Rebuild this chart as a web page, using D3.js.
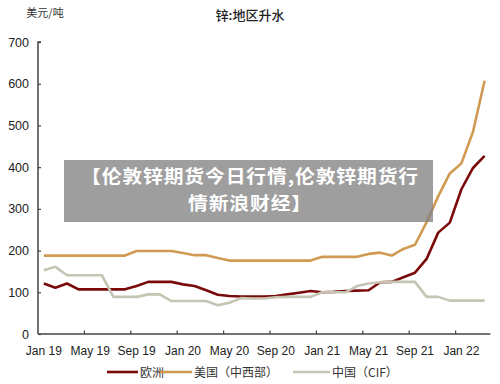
<!DOCTYPE html>
<html><head><meta charset="utf-8">
<script src="https://cdn.jsdelivr.net/npm/d3@7/dist/d3.min.js"></script>
<style>
html,body{margin:0;padding:0;background:#fff;}
svg{display:block;font-family:"Liberation Sans",Arial,"Noto Sans CJK SC",sans-serif;}
</style></head><body>
<svg id="chart" width="500" height="384"></svg>
<script>
const months = ["Jan 19","Feb 19","Mar 19","Apr 19","May 19","Jun 19","Jul 19","Aug 19","Sep 19","Oct 19","Nov 19","Dec 19",
  "Jan 20","Feb 20","Mar 20","Apr 20","May 20","Jun 20","Jul 20","Aug 20","Sep 20","Oct 20","Nov 20","Dec 20",
  "Jan 21","Feb 21","Mar 21","Apr 21","May 21","Jun 21","Jul 21","Aug 21","Sep 21","Oct 21","Nov 21","Dec 21",
  "Jan 22","Feb 22","Mar 22"];
const europe = [121,111,121,107,107,107,107,107,115,125,125,125,119,115,105,94,91,90,90,90,91,95,99,103,100,101,103,104,105,124,125,136,147,180,243,267,347,398,427];
const usMidwest = [188,188,188,188,188,188,188,188,199,199,199,199,194,189,189,182,176,176,176,176,176,176,176,176,185,185,185,185,192,195,188,204,214,268,330,385,409,485,607];
const chinaCIF = [153,161,141,141,141,141,89,89,89,95,95,79,79,79,79,69,75,86,85,85,88,89,89,89,100,100,100,115,121,124,125,125,125,89,89,80,80,80,80];
const tickLabels = ["Jan 19","May 19","Sep 19","Jan 20","May 20","Sep 20","Jan 21","May 21","Sep 21","Jan 22"];
const yTicks = [0,100,200,300,400,500,600,700];
const seriesNames = ["欧洲","美国（中西部）","中国（CIF）"];
const colors = ["#7a0a0a","#d19a52","#c6c4b3"];
const titleText = "锌:地区升水";
const unitText = "美元/吨";
const overlayLines = ["【伦敦锌期货今日行情,伦敦锌期货行","情新浪财经】"];

(function(){
const svg = d3.select("#chart");
const L = 38, R = 490.4, T = 42, B = 334;
const x = d3.scaleBand().domain(months).range([L, R]).paddingInner(0).paddingOuter(0);
const y = d3.scaleLinear().domain([0,700]).range([B, T]);

svg.append("text").attr("x",250).attr("y",20).attr("text-anchor","middle")
  .attr("font-family","'Noto Sans CJK SC',sans-serif").attr("font-size",13).attr("font-weight",500).attr("fill","#222").text(titleText);
svg.append("text").attr("x",45).attr("y",17).attr("text-anchor","middle")
  .attr("font-family","'Noto Sans CJK SC',sans-serif").attr("font-size",11).attr("fill","#333").text(unitText);

const yAxis = d3.axisLeft(y).tickValues(yTicks).tickSize(-3).tickPadding(9);
const gy = svg.append("g").attr("transform",`translate(${L},0)`).call(yAxis);
gy.select(".domain").attr("stroke","#444").attr("stroke-width",1.5).attr("d",`M3,${T}H0V${B}`);
gy.selectAll(".tick line").attr("stroke","#444").attr("stroke-width",1.2);
gy.selectAll(".tick text").attr("font-size",12.5).attr("fill","#222").attr("font-family","'Liberation Sans',Arial,sans-serif");

const tickMonths = months.filter((m,i)=>i%4===0);
const gx = svg.append("g").attr("transform",`translate(0,${B})`);
gx.append("line").attr("x1",L).attr("x2",R).attr("y1",0).attr("y2",0).attr("stroke","#444").attr("stroke-width",1.5);
gx.selectAll("line.tk").data(tickMonths.slice(1)).join("line").attr("class","tk")
  .attr("x1",d=>x(d)).attr("x2",d=>x(d)).attr("y1",0).attr("y2",-3.5).attr("stroke","#444").attr("stroke-width",1.2);
gx.selectAll("text.lb").data(tickLabels).join("text").attr("class","lb")
  .attr("x",d=>x(d)+x.bandwidth()/2).attr("y",21).attr("text-anchor","middle")
  .attr("font-size",12).attr("fill","#222").attr("font-family","'Liberation Sans',Arial,sans-serif").text(d=>d);

const line = d3.line().x((d,i)=>x(months[i])+x.bandwidth()/2).y(d=>y(d));
[europe,usMidwest,chinaCIF].forEach((s,k)=>{
  svg.append("path").datum(s).attr("d",line).attr("fill","none").attr("stroke",colors[k])
    .attr("stroke-width",2.6).attr("stroke-linejoin","round").attr("stroke-linecap","butt");
});

const legendItems = [{x:107,w:31},{x:160,w:32},{x:293,w:37}];
legendItems.forEach((it,k)=>{
  svg.append("line").attr("x1",it.x).attr("x2",it.x+it.w).attr("y1",372).attr("y2",372)
    .attr("stroke",colors[k]).attr("stroke-width",2.6);
  svg.append("text").attr("x",it.x+it.w+2).attr("y",376.5)
    .attr("font-family","'Noto Sans CJK SC',sans-serif").attr("font-size",12).attr("fill","#333").text(seriesNames[k]);
});

svg.append("rect").attr("x",64).attr("y",160).attr("width",369).attr("height",62).attr("fill","rgba(128,128,128,0.76)");
overlayLines.forEach((t,i)=>{
  svg.append("text").attr("transform",`translate(250,${177+i*26.5}) scale(1.1,1)`).attr("dy","0.36em").attr("text-anchor","middle")
    .attr("font-family","'Noto Sans CJK SC',sans-serif").attr("font-size",18).attr("font-weight",700)
    .attr("letter-spacing",0.8).attr("fill","#fff").text(t);
});
})();
</script>
</body></html>
